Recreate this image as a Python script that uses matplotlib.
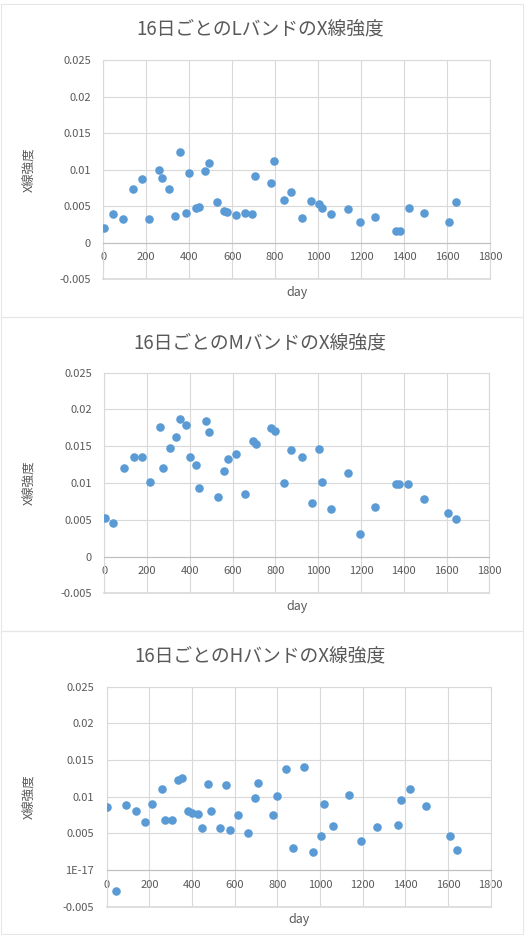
import matplotlib
matplotlib.use("Agg")
import matplotlib.pyplot as plt
from matplotlib.patches import Rectangle

plt.rcParams["font.family"] = ["Noto Sans CJK JP", "DejaVu Sans"]

# days of each 16-day bin (same for all bands)
days = [3, 43, 92, 138, 178, 213, 259, 273, 305, 335, 355, 383, 400, 430,
        445, 475, 491, 531, 561, 578, 617, 660, 693, 708, 779, 796, 841,
        873, 923, 969, 1003, 1018, 1059, 1138, 1194, 1266, 1364, 1380, 1422,
        1495, 1608, 1642]

l_band = [0.0020, 0.0039, 0.0033, 0.0073, 0.0087, 0.0033, 0.0099, 0.0088,
          0.0073, 0.0037, 0.0124, 0.0041, 0.0095, 0.0048, 0.0049, 0.0098,
          0.0109, 0.0056, 0.0043, 0.0042, 0.0038, 0.0041, 0.0039, 0.0091,
          0.0082, 0.0112, 0.0058, 0.0069, 0.0034, 0.0057, 0.0053, 0.0048,
          0.0039, 0.0046, 0.0029, 0.0035, 0.0016, 0.0016, 0.0048, 0.0041,
          0.0029, 0.0056]

m_band = [0.0053, 0.0046, 0.0121, 0.0135, 0.0136, 0.0102, 0.0176, 0.0121,
          0.0147, 0.0163, 0.0187, 0.0179, 0.0136, 0.0124, 0.0093, 0.0184,
          0.0170, 0.0081, 0.0116, 0.0133, 0.0139, 0.0085, 0.0157, 0.0153,
          0.0175, 0.0171, 0.0100, 0.0145, 0.0135, 0.0073, 0.0146, 0.0102,
          0.0065, 0.0113, 0.0030, 0.0067, 0.0099, 0.0099, 0.0098, 0.0078,
          0.0059, 0.0051]

h_band = [0.0086, -0.0029, 0.0089, 0.0081, 0.0066, 0.0090, 0.0111, 0.0068,
          0.0068, 0.0123, 0.0125, 0.0080, 0.0078, 0.0077, 0.0057, 0.0117,
          0.0081, 0.0057, 0.0116, 0.0055, 0.0075, 0.0051, 0.0098, 0.0119,
          0.0075, 0.0101, 0.0138, 0.0030, 0.0141, 0.0025, 0.0047, 0.0090,
          0.0060, 0.0103, 0.0039, 0.0059, 0.0062, 0.0096, 0.0110, 0.0088,
          0.0046, 0.0028]

bands = ["L", "M", "H"]
series = [l_band, m_band, h_band]
y_ticks = [-0.005, 0, 0.005, 0.01, 0.015, 0.02, 0.025]
y_labels = ["-0.005", "0", "0.005", "0.01", "0.015", "0.02", "0.025"]
y_labels_h = ["-0.005", "1E-17", "0.005", "0.01", "0.015", "0.02", "0.025"]
x_ticks = list(range(0, 1801, 200))

W, H = 527, 935
fig = plt.figure(figsize=(W / 100, H / 100), dpi=100)

# pixel layout: (panel top, panel bottom, axes left, axes right, axes top, axes bottom, title y)
layout = [
    (4, 317, 103.3, 490.0, 60.0, 279.3, 29),
    (317, 631, 104.3, 489.3, 372.7, 593.3, 343),
    (631, 934, 106.7, 490.7, 686.7, 906.7, 656),
]

grid_c = "#D9D9D9"
text_c = "#595959"
dot_c = "#5B9BD5"

for i, (band, vals) in enumerate(zip(bands, series)):
    ptop, pbot, al, ar, at, ab, ty = layout[i]

    fig.patches.append(Rectangle((1 / W, 1 - pbot / H), 522 / W, (pbot - ptop) / H,
                                 transform=fig.transFigure, fill=False,
                                 edgecolor="#E6E6E6", linewidth=0.8))

    ax = fig.add_axes([al / W, 1 - ab / H, (ar - al) / W, (ab - at) / H])
    ax.scatter(days, vals, s=38, color=dot_c, zorder=3, linewidths=0)
    ax.set_xlim(0, 1800)
    ax.set_ylim(-0.005, 0.025)
    ax.set_xticks(x_ticks)
    ax.set_yticks(y_ticks)
    ax.set_yticklabels(y_labels_h if band == "H" else y_labels)
    ax.grid(True, color=grid_c, linewidth=0.8)
    ax.set_axisbelow(True)
    for side in ["top", "right", "left"]:
        ax.spines[side].set_color(grid_c)
        ax.spines[side].set_linewidth(0.8)
    ax.spines["bottom"].set_position(("data", 0))
    ax.spines["bottom"].set_color("#BFBFBF")
    ax.spines["bottom"].set_linewidth(0.8)
    ax.axhline(-0.005, color=grid_c, linewidth=1.2, clip_on=False, zorder=0)
    ax.tick_params(length=0, labelsize=8, labelcolor=text_c)
    ax.tick_params(axis="y", pad=9)
    ax.tick_params(axis="x", pad=7)

    fig.text(260 / W, 1 - ty / H, f"16日ごとの{band}バンドのX線強度",
             ha="center", va="center", fontsize=13.5, color=text_c)
    fig.text(30 / W, 1 - (at + ab) / 2 / H, "X線強度", rotation=90,
             ha="center", va="center", fontsize=9, color=text_c)
    fig.text((al + ar) / 2 / W, 1 - (ab + 13) / H, "day",
             ha="center", va="center", fontsize=9, color=text_c)

fig.savefig("out.png", dpi=100, facecolor="white")
